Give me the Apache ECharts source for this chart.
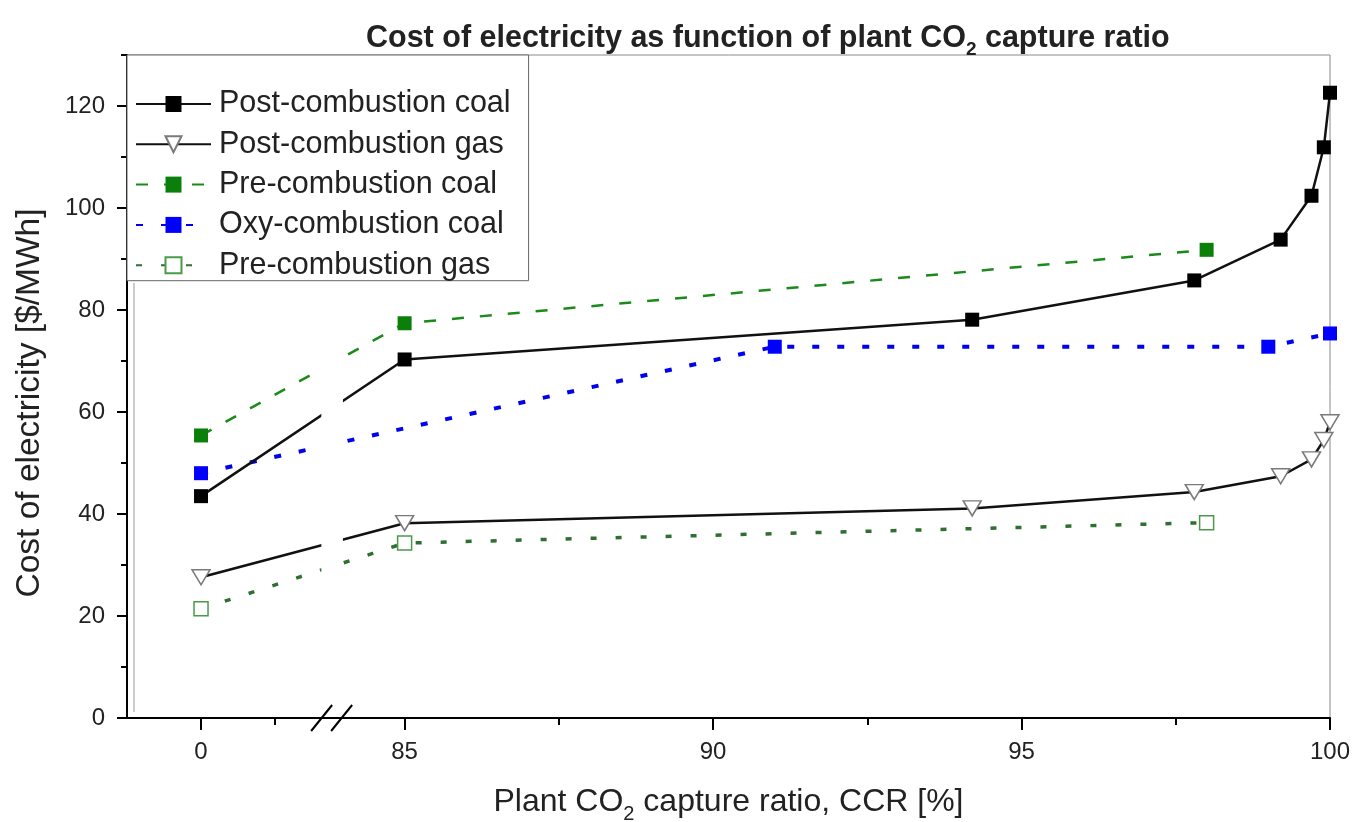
<!DOCTYPE html>
<html>
<head>
<meta charset="utf-8">
<script src="https://cdn.jsdelivr.net/npm/echarts@6/dist/echarts.min.js"></script>
<style>
  html, body { margin: 0; padding: 0; background: #ffffff; }
  #chart { width: 1356px; height: 822px; }
</style>
</head>
<body>
<div id="chart"></div>
<script>
// Plant CO2 capture ratio (%) and cost of electricity ($/MWh) per technology
const ccrPostCoal = [0, 85, 94.2, 97.8, 99.2, 99.7, 99.9, 100];
const coePostCoal = [43.5, 70.3, 78.1, 85.8, 93.8, 102.4, 111.9, 122.6];

const ccrPostGas = [0, 85, 94.2, 97.8, 99.2, 99.7, 99.9, 100];
const coePostGas = [27.6, 38.2, 41.1, 44.3, 47.4, 50.7, 54.5, 58.0];

const ccrPreCoal = [0, 85, 98];
const coePreCoal = [55.4, 77.4, 91.8];

const ccrOxyCoal = [0, 91, 99, 100];
const coeOxyCoal = [48.0, 72.8, 72.8, 75.4];

const ccrPreGas = [0, 85, 98];
const coePreGas = [21.4, 34.3, 38.3];

// Tick positions (in capture-ratio units)
const xMajorTicks = [0, 85, 90, 95, 100];
const xMinorTicks = [1, 87.5, 92.5, 97.5];
const yMajorTicks = [0, 20, 40, 60, 80, 100, 120];
const yMinorTicks = [10, 30, 50, 70, 90, 110, 130];

// Broken x axis: a short segment around 0 %, then 84-100 %.
const LEFT_START = -1;      // first value of the low segment
const LEFT_END = 1.625;     // last value of the low segment
const RIGHT_START = 84;     // first value of the high segment
const LEFT_ORIGIN = 80.5;   // axis coordinate of LEFT_START
const LEFT_SCALE = 1.2;     // axis units per % in the low segment

function toAxis(x) {
  return x < 50 ? LEFT_ORIGIN + (x - LEFT_START) * LEFT_SCALE : x;
}
function fromAxis(t) {
  const lowEnd = toAxis(LEFT_END);
  if (t <= lowEnd + 1e-6) {
    return Math.round((t - LEFT_ORIGIN) / LEFT_SCALE + LEFT_START);
  }
  return Math.round(t * 10) / 10;
}
function pairs(xs, ys) {
  return xs.map((x, i) => [toAxis(x), ys[i]]);
}

const FONT = '"Liberation Sans", Arial, sans-serif';
const TEXT = '#222222';

const chart = echarts.init(document.getElementById('chart'), null, { renderer: 'canvas' });

const option = {
  backgroundColor: '#ffffff',
  animation: false,
  title: {
    left: 361,
    top: 14,
    text: '{a|Cost of electricity as function of plant CO}{s|2}{a| capture ratio}',
    textStyle: {
      rich: {
        a: { fontFamily: FONT, fontWeight: 'bold', fontSize: 30.5, color: TEXT, lineHeight: 40 },
        s: { fontFamily: FONT, fontWeight: 'bold', fontSize: 19, color: TEXT, lineHeight: 40, padding: [22, 0, 0, 0] }
      }
    }
  },
  grid: {
    left: 127, right: 26, top: 55, bottom: 104,
    outerBoundsMode: 'none',
    containLabel: false,
    show: true, borderColor: '#8a8a8a', borderWidth: 1
  },
  legend: {
    orient: 'vertical',
    left: 127,
    top: 55,
    padding: [33.5, 18, 0, 8],
    itemGap: 9.3,
    itemWidth: 75,
    itemHeight: 20,
    borderColor: '#666666',
    borderWidth: 1,
    backgroundColor: '#ffffff',
    textStyle: { fontFamily: FONT, fontSize: 30.5, lineHeight: 31, color: TEXT, padding: [0, 0, 0, 3] },
    data: ['Post-combustion coal', 'Post-combustion gas', 'Pre-combustion coal', 'Oxy-combustion coal', 'Pre-combustion gas']
  },
  xAxis: [
    {
      type: 'value',
      min: toAxis(LEFT_START),
      max: 100,
      splitLine: { show: false },
      axisLine: { show: true, lineStyle: { color: '#000', width: 2 } },
      axisTick: { show: true, length: 12, lineStyle: { color: '#000', width: 2 },
                  customValues: xMajorTicks.map(toAxis) },
      axisLabel: { show: true, margin: 22, fontFamily: FONT, fontSize: 24, color: TEXT,
                   customValues: xMajorTicks.map(toAxis),
                   formatter: (v) => String(fromAxis(v)) },
      name: '{a|Plant CO}{s|2}{a| capture ratio, CCR [%]}',
      nameLocation: 'middle',
      nameGap: 62,
      nameTextStyle: {
        rich: {
          a: { fontFamily: FONT, fontSize: 32, color: TEXT, lineHeight: 44 },
          s: { fontFamily: FONT, fontSize: 20, color: TEXT, lineHeight: 44, padding: [24, 0, 0, 0] }
        }
      }
    },
    {
      type: 'value',
      min: toAxis(LEFT_START),
      max: 100,
      position: 'bottom',
      splitLine: { show: false },
      axisLine: { show: false },
      axisLabel: { show: false },
      axisTick: { show: true, length: 7, lineStyle: { color: '#000', width: 2 },
                  customValues: xMinorTicks.map(toAxis) }
    }
  ],
  yAxis: [
    {
      type: 'value',
      min: 0,
      max: 130,
      splitLine: { show: false },
      axisLine: { show: true, lineStyle: { color: '#000', width: 2 } },
      axisTick: { show: true, length: 10, lineStyle: { color: '#000', width: 2 },
                  customValues: yMajorTicks },
      axisLabel: { show: true, margin: 22, fontFamily: FONT, fontSize: 24, color: TEXT,
                   customValues: yMajorTicks }
    },
    {
      type: 'value',
      min: 0,
      max: 130,
      position: 'left',
      splitLine: { show: false },
      axisLine: { show: false },
      axisLabel: { show: false },
      axisTick: { show: true, length: 6, lineStyle: { color: '#000', width: 2 },
                  customValues: yMinorTicks }
    }
  ],
  series: [
    {
      name: 'Pre-combustion coal',
      type: 'line',
      data: pairs(ccrPreCoal, coePreCoal),
      symbol: 'rect', symbolSize: 14,
      itemStyle: { color: '#0a800a' },
      lineStyle: { color: '#1a8a1a', width: 2.5, type: [12, 16] },
      z: 2
    },
    {
      name: 'Oxy-combustion coal',
      type: 'line',
      data: pairs(ccrOxyCoal, coeOxyCoal),
      symbol: 'rect', symbolSize: 14,
      itemStyle: { color: '#0000ff' },
      lineStyle: { color: '#0000ee', width: 4, type: [7, 18] },
      z: 2
    },
    {
      name: 'Pre-combustion gas',
      type: 'line',
      data: pairs(ccrPreGas, coePreGas),
      symbol: 'rect', symbolSize: 14,
      itemStyle: { color: '#ffffff', borderColor: '#4a9a4a', borderWidth: 1.5 },
      lineStyle: { color: '#2f6f2f', width: 3.5, type: [6, 19] },
      z: 2
    },
    {
      name: 'Post-combustion gas',
      type: 'line',
      data: pairs(ccrPostGas, coePostGas),
      symbol: 'triangle', symbolSize: [18, 15], symbolRotate: 180,
      itemStyle: { color: '#ffffff', borderColor: '#7a7a7a', borderWidth: 1.5 },
      lineStyle: { color: '#111111', width: 2.5 },
      z: 3
    },
    {
      name: 'Post-combustion coal',
      type: 'line',
      data: pairs(ccrPostCoal, coePostCoal),
      symbol: 'rect', symbolSize: 14,
      itemStyle: { color: '#000000' },
      lineStyle: { color: '#111111', width: 2.5 },
      z: 3
    }
  ]
};

chart.setOption(option);

// Axis break: gap in the plotted lines, "//" marks on the x axis,
// plus the rotated y-axis title.
const gapL = chart.convertToPixel({ xAxisIndex: 0, yAxisIndex: 0 }, [toAxis(LEFT_END), 0]);
const gapR = chart.convertToPixel({ xAxisIndex: 0, yAxisIndex: 0 }, [RIGHT_START, 0]);
const yTop = chart.convertToPixel({ xAxisIndex: 0, yAxisIndex: 0 }, [RIGHT_START, 130])[1];
const axisY = gapL[1];
const breakMid = (gapL[0] + gapR[0]) / 2;

chart.setOption({
  graphic: [
    {
      type: 'rect', z: 50,
      shape: { x: gapL[0], y: yTop + 236, width: gapR[0] - gapL[0], height: axisY - yTop - 240 },
      style: { fill: '#ffffff' }
    },
    {
      type: 'line', z: 60,
      shape: { x1: breakMid - 21, y1: axisY + 13, x2: breakMid, y2: axisY - 13 },
      style: { stroke: '#000', lineWidth: 2 }
    },
    {
      type: 'line', z: 60,
      shape: { x1: breakMid - 1, y1: axisY + 13, x2: breakMid + 20, y2: axisY - 13 },
      style: { stroke: '#000', lineWidth: 2 }
    },
    {
      type: 'line', z: 1,
      shape: { x1: 134, y1: yTop + 228, x2: 134, y2: axisY - 6 },
      style: { stroke: '#cccccc', lineWidth: 2 }
    },
    {
      type: 'text', z: 60,
      x: 30, y: 403, rotation: Math.PI / 2,
      style: {
        text: 'Cost of electricity [$/MWh]',
        font: '33.5px ' + FONT,
        fill: TEXT,
        textAlign: 'center',
        textVerticalAlign: 'middle'
      }
    }
  ]
});
</script>
</body>
</html>
